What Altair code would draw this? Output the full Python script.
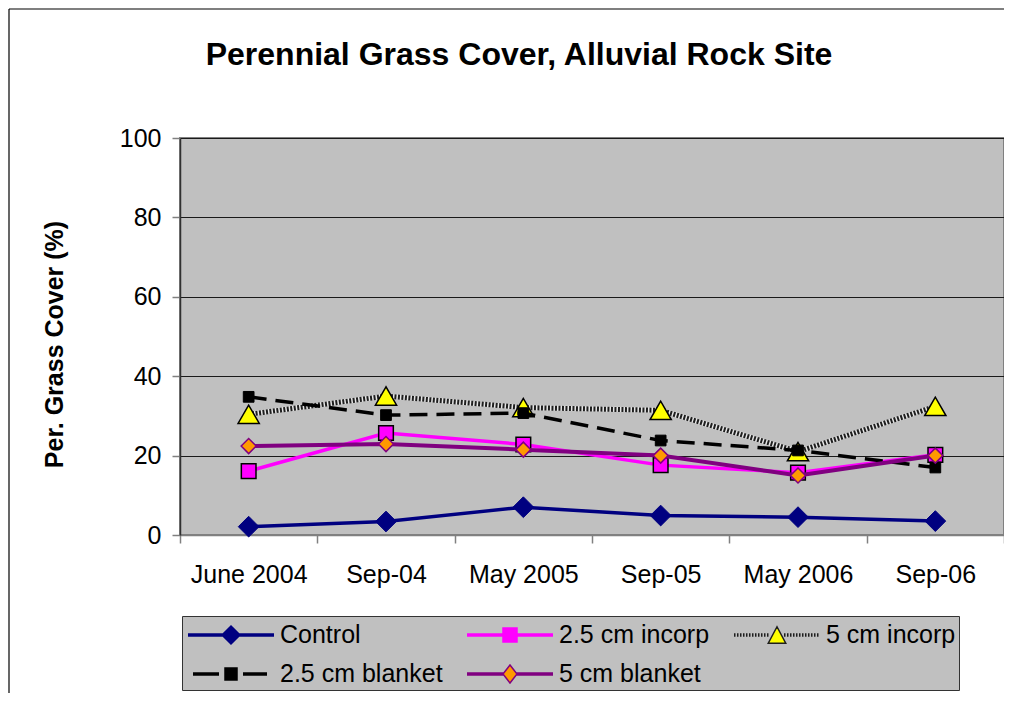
import altair as alt
import pandas as pd

# ---------------- data ----------------
dates = ["June 2004", "Sep-04", "May 2005", "Sep-05", "May 2006", "Sep-06"]
series_names = ["Control", "2.5 cm incorp", "5 cm incorp", "2.5 cm blanket", "5 cm blanket"]

control = [2.1, 3.4, 7.0, 4.9, 4.5, 3.5]
incorp_25 = [16.1, 25.7, 22.8, 17.6, 15.7, 20.2]
incorp_5 = [30.4, 35.0, 32.1, 31.4, 21.0, 32.4]
blanket_25 = [34.8, 30.2, 30.7, 23.8, 21.3, 17.0]
blanket_5 = [22.4, 22.9, 21.5, 20.0, 15.0, 20.0]

series_values = [control, incorp_25, incorp_5, blanket_25, blanket_5]

rows = []
for name, vals in zip(series_names, series_values):
    for d, v in zip(dates, vals):
        rows.append({"date": d, "series": name, "cover": v})
df = pd.DataFrame(rows)

# legend reads row by row in the reference; Vega fills columns first
legend_order = ["Control", "2.5 cm blanket", "2.5 cm incorp", "5 cm blanket", "5 cm incorp"]

# ---------------- styles ----------------
FONT = "Liberation Sans"
W, H = 824, 397

styles = {
    "Control": dict(color="#000080", width=3.5, dash=None, shape="diamond", size=430,
                    fill="#000080", stroke="#000080", sw=1),
    "2.5 cm incorp": dict(color="#FF00FF", width=3.5, dash=None, shape="square", size=215,
                          fill="#FF00FF", stroke="#000000", sw=1.5),
    "5 cm incorp": dict(color="#1e1e1e", width=5, dash=[2, 1.5], shape="triangle-up", size=450,
                        fill="#FFFF00", stroke="#000000", sw=1.5),
    "2.5 cm blanket": dict(color="#000000", width=3.5, dash=[18, 9], shape="square", size=115,
                           fill="#000000", stroke="#000000", sw=1),
    "5 cm blanket": dict(color="#800080", width=4, dash=None, shape="diamond", size=225,
                         fill="#FF9900", stroke="#800080", sw=1.5),
}

# ---------------- legend symbols (line + marker drawn as one path) ----------------
SYM = 30                 # legend row height = symbol box width (px)
U = SYM / 2              # px per path unit


def u(px):
    """px offset from the entry's left edge -> path unit"""
    return (px - U) / U


L, R, CX = u(2), u(88), u(45)
PX = 1 / U
ROWS = [-PX, 0.0, PX]


def fmt(v):
    return f"{v:.3f}"


def seg(a, b):
    return "".join(f"M{fmt(a)},{fmt(y)}H{fmt(b)}" for y in ROWS)


def dots(a, b, step=3 * PX, on=1.5 * PX):
    out = []
    x = a
    while x < b:
        out.append(seg(x, min(x + on, b)))
        x += step
    return "".join(out)


def diamond(hw, hh):
    hw, hh = hw * PX, hh * PX
    return (f"M{fmt(CX)},{fmt(-hh)}L{fmt(CX + hw)},0L{fmt(CX)},{fmt(hh)}"
            f"L{fmt(CX - hw)},0Z")


def square(h):
    h = h * PX
    return f"M{fmt(CX - h)},{fmt(-h)}H{fmt(CX + h)}V{fmt(h)}H{fmt(CX - h)}Z"


def triangle(hw, hh):
    hw, hh = hw * PX, hh * PX
    return f"M{fmt(CX)},{fmt(-hh)}L{fmt(CX + hw)},{fmt(hh)}L{fmt(CX - hw)},{fmt(hh)}Z"


legend_paths = {
    "Control": seg(L, CX - 8 * PX) + seg(CX + 8 * PX, R) + diamond(9, 9),
    "2.5 cm incorp": seg(L, CX - 6 * PX) + seg(CX + 6 * PX, R) + square(7),
    "5 cm incorp": dots(L, CX - 7 * PX) + dots(CX + 7 * PX, R) + triangle(8.75, 8.25),
    "2.5 cm blanket": seg(u(7), u(33)) + seg(u(57), u(81)) + square(6),
    "5 cm blanket": seg(L, CX - 6 * PX) + seg(CX + 6 * PX, R) + diamond(7, 9),
}
legend_fill = {"Control": "#000080", "2.5 cm incorp": "#FF00FF", "5 cm incorp": "#FFFF00",
               "2.5 cm blanket": "#000000", "5 cm blanket": "#FF9900"}
legend_stroke = {"Control": "#000080", "2.5 cm incorp": "#FF00FF", "5 cm incorp": "#1e1e1e",
                 "2.5 cm blanket": "#000000", "5 cm blanket": "#800080"}

# ---------------- encodings ----------------
x_enc = alt.X(
    "date:N",
    sort=dates,
    scale=alt.Scale(domain=dates, type="band", paddingInner=0, paddingOuter=0),
    axis=alt.Axis(title=None, labelAngle=0, labelFontSize=25, labelFont=FONT,
                  labelColor="black", labelPadding=19, tickSize=8, tickBand="extent",
                  tickColor="#808080", tickWidth=1.5, domainColor="#808080", domainWidth=1.5,
                  grid=False, labelOverlap=False),
)
y_enc = alt.Y(
    "cover:Q",
    scale=alt.Scale(domain=[0, 100], nice=False),
    axis=alt.Axis(values=[0, 20, 40, 60, 80, 100], title="Per. Grass Cover (%)",
                  titleFont=FONT, titleFontSize=25, titleFontWeight="bold", titleColor="black",
                  titleAngle=270, titleAlign="center", titleBaseline="middle",
                  titleX=-126, titleY=206,
                  labelFontSize=25, labelFont=FONT, labelColor="black", labelPadding=11,
                  tickSize=8, tickColor="#808080", tickWidth=1.5,
                  domainColor="#303030", domainWidth=1.5,
                  gridColor="#1a1a1a", gridWidth=1, labelOverlap=False),
)

BOTTOM = 158
layers = []

# outer chart frame: only its left and top edges fall inside the picture
one = alt.Data(values=[{"k": 1}])
layers.append(alt.Chart(one).mark_rule(color="black", strokeWidth=1.2).encode(
    x=alt.value(-171), y=alt.value(-129), y2=alt.value(H + BOTTOM)))
layers.append(alt.Chart(one).mark_rule(color="black", strokeWidth=1.2).encode(
    x=alt.value(-171), x2=alt.value(W), y=alt.value(-129)))

for name in series_names:
    st = styles[name]
    base = alt.Chart(df).transform_filter(alt.datum.series == name)
    if name == "5 cm incorp":
        layers.append(base.mark_line(color="#e6e6e6", strokeWidth=st["width"]).encode(x=x_enc, y=y_enc))
    line_kw = dict(color=st["color"], strokeWidth=st["width"])
    if st["dash"]:
        line_kw["strokeDash"] = st["dash"]
    layers.append(base.mark_line(**line_kw).encode(x=x_enc, y=y_enc))
    layers.append(
        base.mark_point(shape=st["shape"], size=st["size"], filled=True, fill=st["fill"],
                        stroke=st["stroke"], strokeWidth=st["sw"], opacity=1)
        .encode(x=x_enc, y=y_enc)
    )

leg = alt.Legend(
    title=None, orient="none", legendX=2, legendY=478, columns=3,
    symbolSize=SYM * SYM, symbolOpacity=1, symbolStrokeWidth=1.5,
    labelFontSize=25, labelFont=FONT, labelColor="black",
    labelOffset=93 - SYM, rowPadding=10, columnPadding=20, padding=3, labelLimit=400,
    fillColor="#C0C0C0", strokeColor="#333333",
)

legend_layer = alt.Chart(df).mark_point(opacity=0, filled=True, strokeWidth=1.5).encode(
    x=x_enc, y=y_enc,
    shape=alt.Shape("series:N", scale=alt.Scale(
        domain=legend_order, range=[legend_paths[n] for n in legend_order]), legend=leg),
    fill=alt.Fill("series:N", scale=alt.Scale(
        domain=legend_order, range=[legend_fill[n] for n in legend_order]), legend=leg),
    stroke=alt.Stroke("series:N", scale=alt.Scale(
        domain=legend_order, range=[legend_stroke[n] for n in legend_order]), legend=leg),
)
layers.append(legend_layer)

chart = (
    alt.layer(*layers)
    .properties(
        width=W, height=H,
        title=alt.TitleParams("Perennial Grass Cover, Alluvial Rock Site", fontSize=32, font=FONT,
                              fontWeight="bold", anchor="middle", dx=-73, offset=-89,
                              baseline="alphabetic", color="black"),
        autosize=alt.AutoSizeParams(type="none"),
        padding={"left": 172, "top": 130, "right": 0, "bottom": BOTTOM},
        background="white",
    )
    .configure_view(fill="#C0C0C0", stroke="#808080", strokeWidth=2)
)

chart.save("out.html", embed_options={"renderer": "svg", "actions": False})
